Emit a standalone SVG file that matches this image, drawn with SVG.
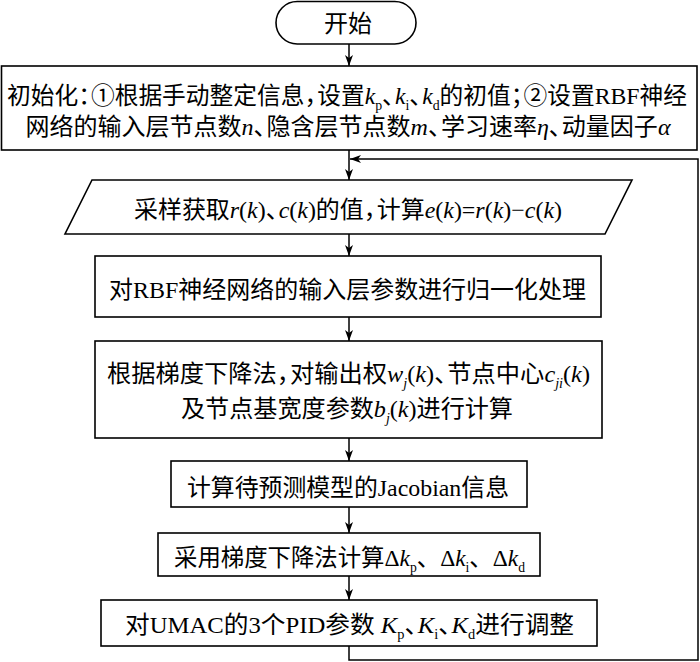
<svg xmlns="http://www.w3.org/2000/svg" width="700" height="662" viewBox="0 0 700 662">
<style>
.box{fill:#fff;stroke:#000;stroke-width:1.6}
.t{font-family:"Liberation Serif","Noto Sans CJK SC",serif;font-size:24px;fill:#000;text-anchor:middle}
.i{font-style:italic}
.s{font-size:14px}
.p{letter-spacing:-11px}
.con{fill:none;stroke:#000;stroke-width:1.5}
</style>
<defs>
<marker id="ar" markerUnits="userSpaceOnUse" markerWidth="12" markerHeight="8" refX="11" refY="4" orient="auto">
<path d="M0,0 L11,4 L0,8 L3,4 Z" fill="#000"/>
</marker>
</defs>
<g id="connectors">
<line class="con" x1="349" y1="44" x2="349" y2="66" marker-end="url(#ar)"/>
<line class="con" x1="349" y1="150" x2="349" y2="180" marker-end="url(#ar)"/>
<line class="con" x1="349" y1="234" x2="349" y2="256" marker-end="url(#ar)"/>
<line class="con" x1="349" y1="317" x2="349" y2="341" marker-end="url(#ar)"/>
<line class="con" x1="349" y1="438" x2="349" y2="461" marker-end="url(#ar)"/>
<line class="con" x1="349" y1="507" x2="349" y2="533" marker-end="url(#ar)"/>
<line class="con" x1="349" y1="576" x2="349" y2="600" marker-end="url(#ar)"/>
<polyline class="con" points="349,646 349,660 698,660 698,159 350,159" marker-end="url(#ar)"/>
</g>
<g id="start">
<rect class="box" x="276" y="1.5" width="140" height="42.5" rx="21.25"/>
<text class="t" x="348" y="32">开始</text>
</g>
<g id="init">
<rect class="box" x="1.5" y="66" width="695.5" height="84"/>
<text class="t" x="347" y="104" textLength="680" lengthAdjust="spacingAndGlyphs">初始化<tspan class="p">：</tspan>①根据手动整定信息<tspan class="p">，</tspan>设置<tspan class="i">k</tspan><tspan class="s" dy="6">p</tspan><tspan class="p" dy="-6">、</tspan><tspan class="i">k</tspan><tspan class="s" dy="6">i</tspan><tspan class="p" dy="-6">、</tspan><tspan class="i">k</tspan><tspan class="s" dy="6">d</tspan><tspan dy="-6">的初值</tspan><tspan class="p">；</tspan>②设置RBF神经</text>
<text class="t" x="348" y="135" textLength="645" lengthAdjust="spacingAndGlyphs">网络的输入层节点数<tspan class="i">n</tspan><tspan class="p">、</tspan>隐含层节点数<tspan class="i">m</tspan><tspan class="p">、</tspan>学习速率<tspan class="i">η</tspan><tspan class="p">、</tspan>动量因子<tspan class="i">α</tspan></text>
</g>
<g id="sample">
<polygon class="box" points="92,180 632,180 605,234 65,234"/>
<text class="t" x="348" y="218" textLength="428" lengthAdjust="spacingAndGlyphs">采样获取<tspan class="i">r</tspan>(<tspan class="i">k</tspan>)<tspan class="p">、</tspan><tspan class="i">c</tspan>(<tspan class="i">k</tspan>)的值<tspan class="p">，</tspan>计算<tspan class="i">e</tspan>(<tspan class="i">k</tspan>)=<tspan class="i">r</tspan>(<tspan class="i">k</tspan>)−<tspan class="i">c</tspan>(<tspan class="i">k</tspan>)</text>
</g>
<g id="normalize">
<rect class="box" x="95" y="256" width="506" height="61"/>
<text class="t" x="347.5" y="298" textLength="477" lengthAdjust="spacingAndGlyphs">对RBF神经网络的输入层参数进行归一化处理</text>
</g>
<g id="gradient">
<rect class="box" x="95" y="341" width="507" height="97"/>
<text class="t" x="348.5" y="382" textLength="483" lengthAdjust="spacingAndGlyphs">根据梯度下降法<tspan class="p">，</tspan>对输出权<tspan class="i">w</tspan><tspan class="s i" dy="6">j</tspan><tspan dy="-6">(</tspan><tspan class="i">k</tspan>)<tspan class="p">、</tspan>节点中心<tspan class="i">c</tspan><tspan class="s i" dy="6">ji</tspan><tspan dy="-6">(</tspan><tspan class="i">k</tspan>)</text>
<text class="t" x="347" y="417" textLength="332" lengthAdjust="spacingAndGlyphs">及节点基宽度参数<tspan class="i">b</tspan><tspan class="s i" dy="6">j</tspan><tspan dy="-6">(</tspan><tspan class="i">k</tspan>)进行计算</text>
</g>
<g id="jacobian">
<rect class="box" x="171" y="461" width="356" height="46"/>
<text class="t" x="348" y="496" textLength="322" lengthAdjust="spacingAndGlyphs">计算待预测模型的Jacobian信息</text>
</g>
<g id="delta">
<rect class="box" x="158" y="533" width="382" height="43"/>
<text class="t" x="349.5" y="566" textLength="351" lengthAdjust="spacingAndGlyphs">采用梯度下降法计算Δ<tspan class="i">k</tspan><tspan class="s" dy="6">p</tspan><tspan dy="-6">、Δ</tspan><tspan class="i">k</tspan><tspan class="s" dy="6">i</tspan><tspan dy="-6">、Δ</tspan><tspan class="i">k</tspan><tspan class="s" dy="6">d</tspan></text>
</g>
<g id="adjust">
<rect class="box" x="101" y="600" width="496" height="46"/>
<text class="t" x="349.5" y="633" textLength="449" lengthAdjust="spacingAndGlyphs">对UMAC的3个PID参数 <tspan class="i">K</tspan><tspan class="s" dy="6">p</tspan><tspan class="p" dy="-6">、</tspan><tspan class="i">K</tspan><tspan class="s" dy="6">i</tspan><tspan class="p" dy="-6">、</tspan><tspan class="i">K</tspan><tspan class="s" dy="6">d</tspan><tspan dy="-6">进行调整</tspan></text>
</g>
</svg>
